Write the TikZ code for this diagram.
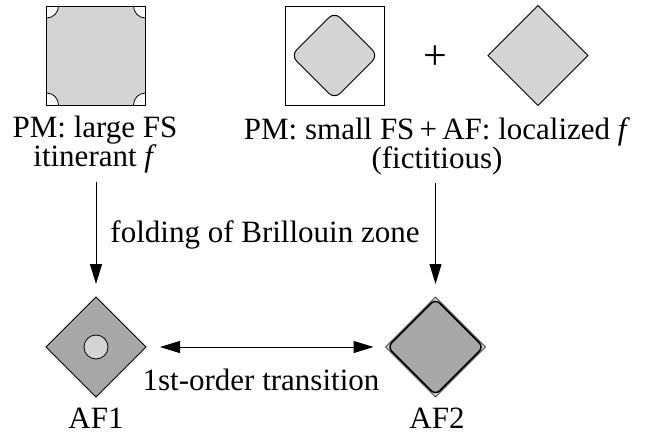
\documentclass[tikz,border=0pt]{standalone}
\usepackage{fontspec}
\setmainfont{Liberation Serif}
\usetikzlibrary{shapes.geometric,arrows.meta}
\definecolor{lg}{gray}{0.83}
\definecolor{dg}{gray}{0.66}
\begin{document}
\begin{tikzpicture}[x=1pt,y=-1pt,
  lbl/.style={font=\fontsize{31}{29}\selectfont, inner sep=0, align=center},
  shp/.style={line width=1pt, inner sep=0, outer sep=0},
  dia/.style={shp, diamond, draw, minimum width=100pt, minimum height=100pt},
  arr/.style={line width=1pt, -{Triangle[length=20pt,width=12pt]}},
  darr/.style={line width=1pt, {Triangle[length=20pt,width=12pt]}-{Triangle[length=20pt,width=12pt]}}]
\useasboundingbox (0,0) rectangle (647,439);
% top left: large FS
\node[shp, draw, fill=lg, rectangle, minimum size=99pt] (sq1) at (96,55.5) {};
\begin{scope}
\clip (sq1.south west) rectangle (sq1.north east);
\foreach \a in {north west, north east, south west, south east}
  \filldraw[fill=white, line width=0.8pt] (sq1.\a) circle (12);
\end{scope}
\draw[line width=1pt] (sq1.south west) rectangle (sq1.north east);
% top middle: small FS
\node[shp, draw, fill=white, rectangle, minimum size=99pt] (sq2) at (334.5,55.5) {};
\filldraw[fill=lg, line width=1pt, rounded corners=8pt]
  (312.75,33.75) -- (334.5,12) -- (378,55.5) -- (334.5,99) -- (291,55.5) -- cycle;
\node[lbl, font=\fontsize{42}{42}\selectfont] (plus) at (435,58) {+};
% top right: AF localized
\node[dia, fill=lg] (dm) at (538,55.5) {};
% labels
\node[lbl] (pmL) at (95,145) {PM: large FS\\itinerant \textit{f}};
\node[lbl] (pmR) at (437,146) {PM: small FS\,+\,AF: localized \textit{f}\\(fictitious)};
% bottom
\node[dia, fill=dg] (af1) at (96,347) {};
\node[circle, draw, fill=lg, line width=0.8pt, minimum size=24pt, inner sep=0] (hole) at (af1) {};
\node[dia, fill=lg, line width=0.6pt] (af2) at (435.5,347) {};
\filldraw[fill=dg, line width=1.5pt, rounded corners=6pt]
  (411.5,323) -- (435.5,299) -- (483.5,347) -- (435.5,395) -- (387.5,347) -- cycle;
\node[lbl, anchor=base] (af1l) at (96,428) {AF1};
\node[lbl, anchor=base] (af2l) at (437,428) {AF2};
\node[lbl, anchor=base] (fold) at (265,242) {folding of Brillouin zone};
\node[lbl, anchor=base] (trans) at (261,390) {1st-order transition};
% connectors
\draw[arr, shorten <=8pt, shorten >=13pt] (pmL.south -| af1.north) -- (af1.north);
\draw[arr, shorten <=8pt, shorten >=13pt] (pmR.south -| af2.north) -- (af2.north);
\draw[darr, shorten <=14pt, shorten >=12pt] (af1.east) -- (af2.west);
\end{tikzpicture}
\end{document}
